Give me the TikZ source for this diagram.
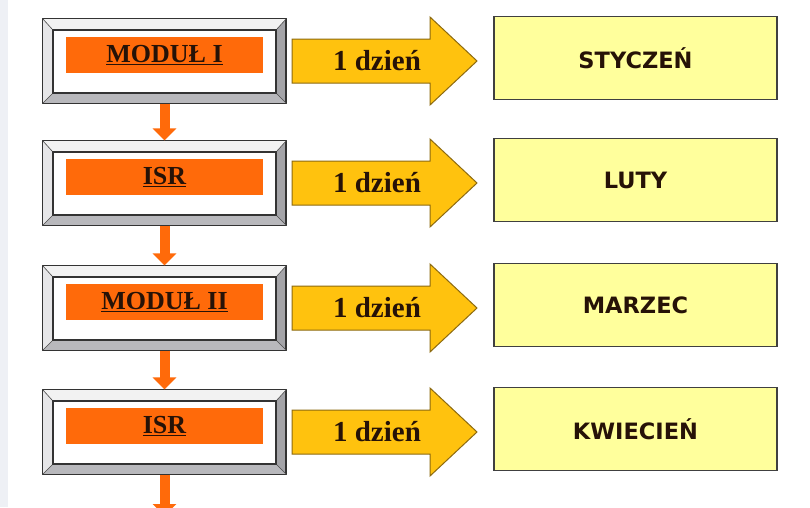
\documentclass[tikz,border=0pt]{standalone}
\usepackage{fontspec}
\setmainfont{Liberation Serif}
\newfontfamily\monthfont{DejaVu Sans}
\usetikzlibrary{arrows.meta}
\definecolor{orangeF}{HTML}{FF6A0A}
\definecolor{goldF}{HTML}{FFC20E}
\definecolor{goldD}{HTML}{8C6A10}
\definecolor{paleY}{HTML}{FFFF9C}
\definecolor{txtD}{HTML}{261207}
\definecolor{strip}{HTML}{EEF0F5}
\definecolor{bevR}{HTML}{A4A4A8}
\definecolor{bevB}{HTML}{B8B8BC}
\definecolor{bevT}{HTML}{F2F2F2}
\definecolor{bevL}{HTML}{E6E6E8}
\tikzset{
  outerbox/.style={draw=black!80, line width=1.2pt, fill=bevR, minimum width=243pt, minimum height=84pt, inner sep=0pt},
  innerbox/.style={draw=black!80, line width=1.2pt, fill=white, minimum width=223pt, minimum height=63pt, inner sep=0pt},
  modbox/.style={fill=orangeF, minimum width=197pt, minimum height=36pt, inner sep=0pt, text=txtD, font=\fontsize{26}{28}\selectfont\bfseries},
  monthbox/.style={draw=black!75, line width=1.2pt, fill=paleY, minimum width=283pt, minimum height=83pt, inner sep=0pt, text=txtD, font=\monthfont\fontsize{22.5}{24}\selectfont\bfseries},
  daytext/.style={text=txtD, inner sep=0pt, font=\fontsize{29}{31}\selectfont\bfseries},
  bigarrow/.style={draw=goldD, line width=1pt, fill=goldF, line join=miter},
  downarrow/.style={draw=orangeF, line width=10pt, -{Triangle[width=23pt,length=12pt]}},
}
\begin{document}
\begin{tikzpicture}[x=1pt,y=-1pt]
\useasboundingbox (0,0) rectangle (810,507);
\clip (0,0) rectangle (810,507);
\fill[white] (0,0) rectangle (810,507);
\fill[strip] (0,0) rectangle (8,507);
\foreach \i/\yc/\mod/\mon in {1/61/{MODUŁ I}/{STYCZEŃ},2/183/{ISR}/{LUTY},3/308/{MODUŁ II}/{MARZEC},4/432/{ISR}/{KWIECIEŃ}}{
  % bevelled frame
  \node[outerbox] (b\i) at (164.5,\yc) {};
  \fill[bevT] (b\i.north west) -- (b\i.north east) -- ([shift={(-10,11)}]b\i.north east) -- ([shift={(10,11)}]b\i.north west) -- cycle;
  \fill[bevL] (b\i.north west) -- ([shift={(10,11)}]b\i.north west) -- ([shift={(10,-10)}]b\i.south west) -- (b\i.south west) -- cycle;
  \fill[bevB] (b\i.south west) -- ([shift={(10,-10)}]b\i.south west) -- ([shift={(-10,-10)}]b\i.south east) -- (b\i.south east) -- cycle;
  \draw[black!80, line width=1.2pt] (b\i.north west) rectangle (b\i.south east);
  \draw[black!70, line width=0.6pt] (b\i.north west) -- ([shift={(10,11)}]b\i.north west)
       (b\i.north east) -- ([shift={(-10,11)}]b\i.north east)
       (b\i.south west) -- ([shift={(10,-10)}]b\i.south west)
       (b\i.south east) -- ([shift={(-10,-10)}]b\i.south east);
  \node[innerbox] (in\i) at (164.5,\yc+0.5) {};
  \node[modbox] (m\i) at (164.5,\yc-6) {\underline{\mod}};
  % month box
  \node[monthbox] (y\i) at (635.5,\yc-3) {\mon};
  % block arrow
  \draw[bigarrow] (292,\yc-22) -- (430,\yc-22) -- (430,\yc-44) -- (477,\yc) -- (430,\yc+44) -- (430,\yc+22) -- (292,\yc+22) -- cycle;
  \node[daytext] (d\i) at (377,\yc) {1 dzień};
}
\coordinate (bend) at (164.5,516);
\draw[downarrow] (b1.south) -- (b2.north);
\draw[downarrow] (b2.south) -- (b3.north);
\draw[downarrow] (b3.south) -- (b4.north);
\draw[downarrow] (b4.south) -- (bend);
\end{tikzpicture}
\end{document}
